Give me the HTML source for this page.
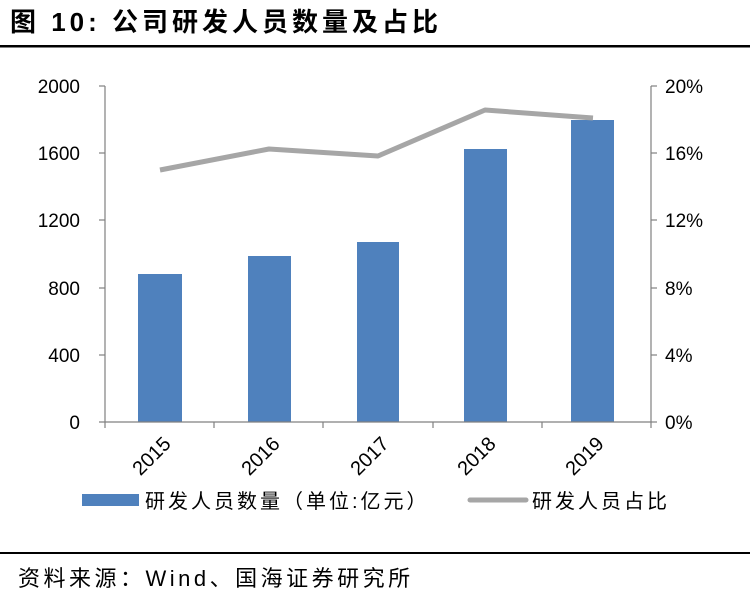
<!DOCTYPE html>
<html><head><meta charset="utf-8"><style>
body{margin:0;background:#fff;width:750px;height:609px;overflow:hidden}
svg text{font-family:"Liberation Sans","Noto Sans CJK SC",sans-serif}
</style></head><body>
<svg width="750" height="609" viewBox="0 0 750 609">
<text x="10" y="31" font-size="26" font-weight="bold" fill="#000" letter-spacing="4">图 10:  公司研发人员数量及占比</text>
<rect x="0" y="45" width="750" height="2.5" fill="#000"/>
<g font-size="19" fill="#000" text-anchor="end">
<text x="80" y="93">2000</text><text x="80" y="160">1600</text><text x="80" y="227">1200</text>
<text x="80" y="295">800</text><text x="80" y="362">400</text><text x="80" y="429">0</text>
</g>
<g font-size="19" fill="#000" text-anchor="start">
<text x="665" y="93">20%</text><text x="665" y="160">16%</text><text x="665" y="227">12%</text>
<text x="665" y="295">8%</text><text x="665" y="362">4%</text><text x="665" y="429">0%</text>
</g>
<g stroke="#808080" stroke-width="1.2">
<line x1="105" y1="86" x2="105" y2="422"/>
<line x1="99" y1="86" x2="105" y2="86"/><line x1="99" y1="153" x2="105" y2="153"/><line x1="99" y1="220" x2="105" y2="220"/><line x1="99" y1="288" x2="105" y2="288"/><line x1="99" y1="355" x2="105" y2="355"/>
<line x1="651" y1="86" x2="651" y2="422"/>
<line x1="651" y1="86" x2="657" y2="86"/><line x1="651" y1="153" x2="657" y2="153"/><line x1="651" y1="220" x2="657" y2="220"/><line x1="651" y1="288" x2="657" y2="288"/><line x1="651" y1="355" x2="657" y2="355"/><line x1="651" y1="422" x2="657" y2="422"/>
</g>
<g fill="#4f81bd">
<rect x="138" y="274" width="44" height="148"/>
<rect x="248" y="256" width="43" height="166"/>
<rect x="357" y="242" width="42" height="180"/>
<rect x="464" y="149" width="43" height="273"/>
<rect x="571" y="120" width="43" height="302"/>
</g>
<g stroke="#808080" stroke-width="1.2">
<line x1="99" y1="422" x2="651" y2="422"/>
<line x1="105" y1="422" x2="105" y2="428"/><line x1="214" y1="422" x2="214" y2="428"/><line x1="323" y1="422" x2="323" y2="428"/><line x1="433" y1="422" x2="433" y2="428"/><line x1="542" y1="422" x2="542" y2="428"/><line x1="651" y1="422" x2="651" y2="428"/>
</g>
<polyline points="160,170 269,149 378,156 485,110 593,118" fill="none" stroke="#a6a6a6" stroke-width="5" stroke-linejoin="round"/>
<g font-size="20" fill="#000" text-anchor="end">
<text transform="translate(172,445) rotate(-45)">2015</text>
<text transform="translate(281,445) rotate(-45)">2016</text>
<text transform="translate(390,445) rotate(-45)">2017</text>
<text transform="translate(497,445) rotate(-45)">2018</text>
<text transform="translate(605,445) rotate(-45)">2019</text>
</g>
<rect x="82" y="494" width="57" height="12" fill="#4f81bd"/>
<text x="145" y="508" font-size="20" fill="#000" letter-spacing="3">研发人员数量（单位:亿元）</text>
<line x1="470" y1="500" x2="526" y2="500" stroke="#a6a6a6" stroke-width="5" stroke-linecap="round"/>
<text x="532" y="508" font-size="20" fill="#000" letter-spacing="3">研发人员占比</text>
<rect x="0" y="552" width="750" height="2" fill="#000"/>
<text x="18" y="586" font-size="22" fill="#000" letter-spacing="3.5">资料来源：Wind、国海证券研究所</text>
</svg>
</body></html>
